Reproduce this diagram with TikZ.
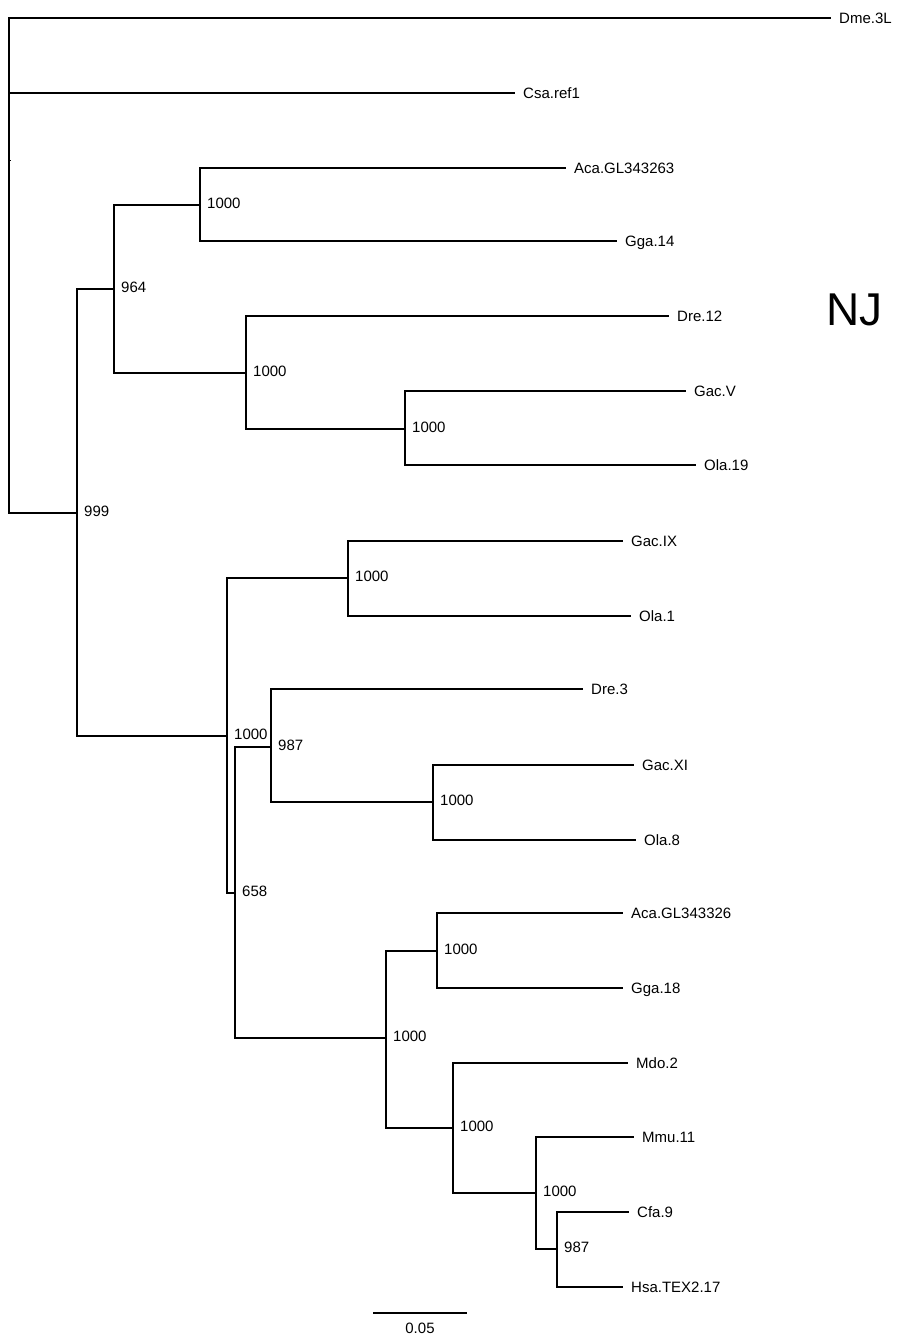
\documentclass[tikz,border=0pt]{standalone}
\usepackage{fontspec}
\setmainfont{Liberation Sans}
\begin{document}
\begin{tikzpicture}[x=1pt,y=1pt,
  br/.style={line width=1.5pt},
  leaf/.style={anchor=base west, inner sep=0pt, xshift=8pt, yshift=-5.3pt, font=\fontsize{15}{17}\selectfont},
  boot/.style={anchor=base west, inner sep=0pt, xshift=7pt, yshift=-3pt, font=\fontsize{15}{17}\selectfont}]
\useasboundingbox (0,0) rectangle (897,-1336);
% internal nodes
\coordinate (r) at (9,-265);
\coordinate (n999) at (77,-513);
\coordinate (n964) at (114,-289);
\coordinate (nAG1) at (200,-205);
\coordinate (nDre) at (246,-373);
\coordinate (nGV) at (405,-429);
\coordinate (nBig) at (227,-736);
\coordinate (nGIX) at (348,-578);
\coordinate (n658) at (235,-893);
\coordinate (n987a) at (271,-747);
\coordinate (nGXI) at (433,-802);
\coordinate (nT) at (386,-1038);
\coordinate (nAG2) at (437,-951);
\coordinate (nM) at (453,-1128);
\coordinate (nMm) at (536,-1193);
\coordinate (n987b) at (557,-1249);
% tips
\coordinate (dme) at (831,-18);
\coordinate (csa) at (515,-93);
\coordinate (aca1) at (566,-168);
\coordinate (gga14) at (617,-241);
\coordinate (dre12) at (669,-316);
\coordinate (gacV) at (686,-391);
\coordinate (ola19) at (696,-465);
\coordinate (gacIX) at (623,-541);
\coordinate (ola1) at (631,-616);
\coordinate (dre3) at (583,-689);
\coordinate (gacXI) at (634,-765);
\coordinate (ola8) at (636,-840);
\coordinate (aca2) at (623,-913);
\coordinate (gga18) at (623,-988);
\coordinate (mdo) at (628,-1063);
\coordinate (mmu) at (634,-1137);
\coordinate (cfa) at (629,-1212);
\coordinate (hsa) at (623,-1287);
% branches
\draw[br] (r) |- (dme);
\draw[br] (r) |- (csa);
\draw[br] (r) |- (n999);
\draw[br] (n999) |- (n964);
\draw[br] (n999) |- (nBig);
\draw[br] (n964) |- (nAG1);
\draw[br] (n964) |- (nDre);
\draw[br] (nAG1) |- (aca1);
\draw[br] (nAG1) |- (gga14);
\draw[br] (nDre) |- (dre12);
\draw[br] (nDre) |- (nGV);
\draw[br] (nGV) |- (gacV);
\draw[br] (nGV) |- (ola19);
\draw[br] (nBig) |- (nGIX);
\draw[br] (nBig) |- (n658);
\draw[br] (nGIX) |- (gacIX);
\draw[br] (nGIX) |- (ola1);
\draw[br] (n658) |- (n987a);
\draw[br] (n658) |- (nT);
\draw[br] (n987a) |- (dre3);
\draw[br] (n987a) |- (nGXI);
\draw[br] (nGXI) |- (gacXI);
\draw[br] (nGXI) |- (ola8);
\draw[br] (nT) |- (nAG2);
\draw[br] (nT) |- (nM);
\draw[br] (nAG2) |- (aca2);
\draw[br] (nAG2) |- (gga18);
\draw[br] (nM) |- (mdo);
\draw[br] (nM) |- (nMm);
\draw[br] (nMm) |- (mmu);
\draw[br] (nMm) |- (n987b);
\draw[br] (n987b) |- (cfa);
\draw[br] (n987b) |- (hsa);
\coordinate (tick) at (9,-160);
\coordinate (tickend) at (11,-160);
\draw[line width=0.8pt] (tick) -- (tickend);
% leaf labels
\node[leaf] (Ldme) at (dme) {Dme.3L};
\node[leaf] (Lcsa) at (csa) {Csa.ref1};
\node[leaf] (Laca1) at (aca1) {Aca.GL343263};
\node[leaf] (Lgga14) at (gga14) {Gga.14};
\node[leaf] (Ldre12) at (dre12) {Dre.12};
\node[leaf] (LgacV) at (gacV) {Gac.V};
\node[leaf] (Lola19) at (ola19) {Ola.19};
\node[leaf] (LgacIX) at (gacIX) {Gac.IX};
\node[leaf] (Lola1) at (ola1) {Ola.1};
\node[leaf] (Ldre3) at (dre3) {Dre.3};
\node[leaf] (LgacXI) at (gacXI) {Gac.XI};
\node[leaf] (Lola8) at (ola8) {Ola.8};
\node[leaf] (Laca2) at (aca2) {Aca.GL343326};
\node[leaf] (Lgga18) at (gga18) {Gga.18};
\node[leaf] (Lmdo) at (mdo) {Mdo.2};
\node[leaf] (Lmmu) at (mmu) {Mmu.11};
\node[leaf] (Lcfa) at (cfa) {Cfa.9};
\node[leaf] (Lhsa) at (hsa) {Hsa.TEX2.17};
% bootstrap labels
\node[boot] (B999) at (n999) {999};
\node[boot] (B964) at (n964) {964};
\node[boot] (BAG1) at (nAG1) {1000};
\node[boot] (BDre) at (nDre) {1000};
\node[boot] (BGV) at (nGV) {1000};
\node[boot] (BBig) at (nBig) {1000};
\node[boot] (BGIX) at (nGIX) {1000};
\node[boot] (B658) at (n658) {658};
\node[boot] (B987a) at (n987a) {987};
\node[boot] (BGXI) at (nGXI) {1000};
\node[boot] (BT) at (nT) {1000};
\node[boot] (BAG2) at (nAG2) {1000};
\node[boot] (BM) at (nM) {1000};
\node[boot] (BMm) at (nMm) {1000};
\node[boot] (B987b) at (n987b) {987};
% scale bar
\coordinate (sb1) at (373,-1313);
\coordinate (sb2) at (467,-1313);
\draw[br] (sb1) -- (sb2);
\node[font=\fontsize{15}{17}\selectfont, inner sep=0pt] (sbl) at (420,-1328) {0.05};
% title
\node[font=\fontsize{46}{50}\selectfont, inner sep=0pt, anchor=base west] (nj) at (826,-325) {NJ};
\end{tikzpicture}
\end{document}
